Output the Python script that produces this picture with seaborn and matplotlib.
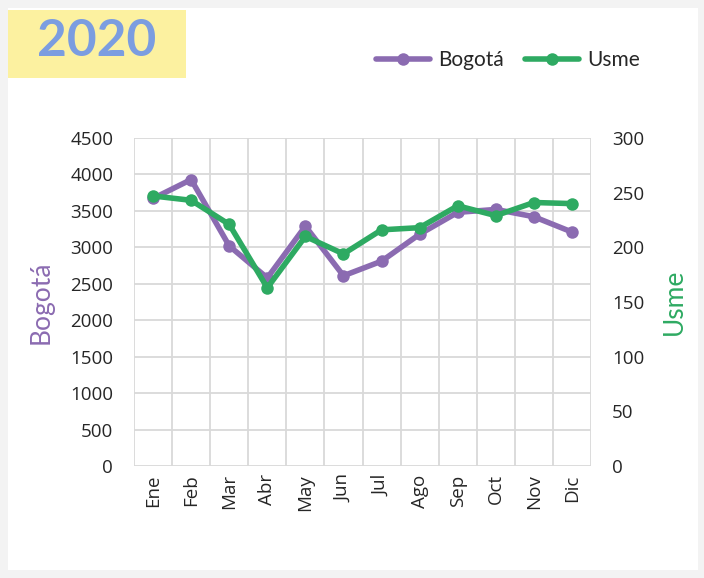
import matplotlib
matplotlib.use("Agg")
import matplotlib.pyplot as plt
from matplotlib.patches import Rectangle
import seaborn as sns
import pandas as pd
import numpy as np

meses = ["Ene", "Feb", "Mar", "Abr", "May", "Jun", "Jul", "Ago", "Sep", "Oct", "Nov", "Dic"]
bogota = [3670, 3930, 3020, 2580, 3290, 2610, 2810, 3180, 3480, 3520, 3420, 3210]
usme = [247, 243, 221, 163, 210, 194, 216, 218, 238, 229, 241, 240]

purple = "#8B6BB1"
green = "#2EAA62"

sns.set_theme(style="white")
plt.rcParams["font.family"] = ["Lato", "DejaVu Sans"]

df = pd.DataFrame({"Mes": meses, "Bogotá": bogota, "Usme": usme})
df["x"] = np.arange(len(meses))

W, H = 704, 578
fig = plt.figure(figsize=(W / 100, H / 100), dpi=100, facecolor="#f3f3f3")
# white card and yellow title box
fig.add_artist(Rectangle((8 / W, 8 / H), 690 / W, 562 / H, transform=fig.transFigure,
                         facecolor="white", edgecolor="none", zorder=-2))
fig.add_artist(Rectangle((8 / W, 1 - 78 / H), 178 / W, 68 / H, transform=fig.transFigure,
                         facecolor="#FCF1A0", edgecolor="none", zorder=-1))

ax = fig.add_axes([134 / W, 1 - 466 / H, 457 / W, 328 / H])
ax2 = ax.twinx()

sns.lineplot(data=df, x="x", y="Bogotá", ax=ax, color=purple, linewidth=4,
             marker="o", markersize=9, markeredgewidth=0)
sns.lineplot(data=df, x="x", y="Usme", ax=ax2, color=green, linewidth=4,
             marker="o", markersize=9, markeredgewidth=0)

ax.set_facecolor("none")
ax.set_xlim(-0.5, len(meses) - 0.5)
ax.set_ylim(0, 4500)
ax.set_yticks(range(0, 4501, 500))
ax2.set_ylim(0, 300)
ax2.set_yticks(range(0, 301, 50))

ax.set_xticks(df["x"])
ax.set_xticklabels(meses, rotation=90, fontsize=13.5, family=["Open Sans", "DejaVu Sans"])
ax.set_xticks(np.arange(-0.5, len(meses), 1), minor=True)
ax.tick_params(axis="x", which="both", length=0, pad=6)
ax.tick_params(axis="y", length=0, labelsize=13.5, pad=15)
ax2.tick_params(axis="y", length=0, labelsize=13.5, pad=15)
for lab in ax.get_yticklabels() + ax2.get_yticklabels():
    lab.set_family(["Open Sans", "DejaVu Sans"])

ax.grid(True, axis="y", which="major", color="#d9d9d9", linewidth=1.3)
ax.grid(True, axis="x", which="minor", color="#d9d9d9", linewidth=1.3)
ax.grid(False, axis="x", which="major")
for s in list(ax.spines.values()) + list(ax2.spines.values()):
    s.set_visible(False)
ax.set_axisbelow(True)

ax.set_xlabel("")
ax.set_ylabel("Bogotá", color=purple, fontsize=19, labelpad=12)
ax2.set_ylabel("Usme", color=green, fontsize=19, rotation=90, labelpad=13)

fig.text(97 / W, 1 - 42 / H, "2020", fontsize=37, fontweight="bold", color="#7B9DE0",
         ha="center", va="center")

handles = [plt.Line2D([], [], color=purple, lw=4, marker="o", ms=9, mew=0),
           plt.Line2D([], [], color=green, lw=4, marker="o", ms=9, mew=0)]
fig.legend(handles, ["Bogotá", "Usme"], loc="center", bbox_to_anchor=(508 / W, 1 - 60 / H),
           ncol=2, frameon=False, fontsize=15, handlelength=2.6, columnspacing=1.0,
           handletextpad=0.4)

fig.savefig("out.png", dpi=100, facecolor=fig.get_facecolor())
